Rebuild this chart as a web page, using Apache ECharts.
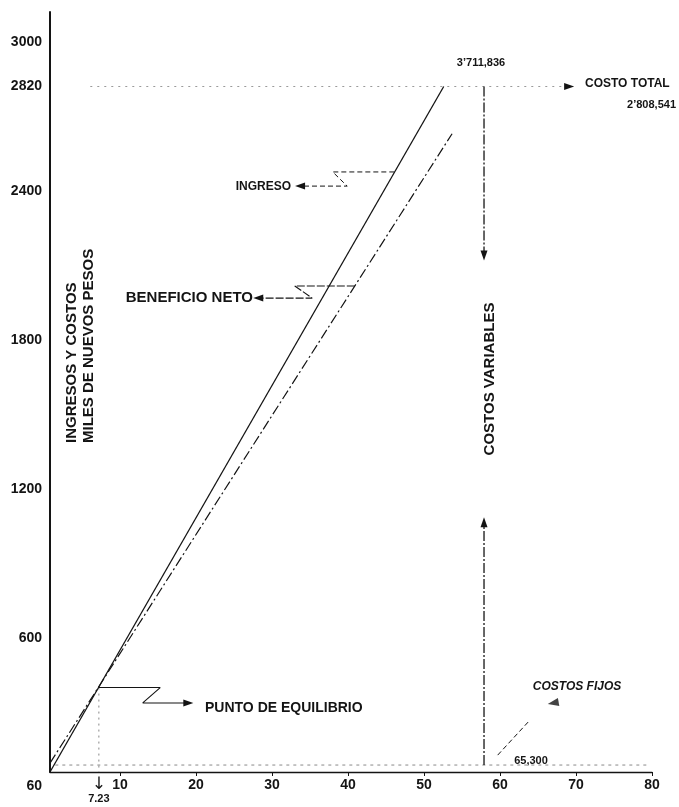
<!DOCTYPE html>
<html>
<head>
<meta charset="utf-8">
<script src="https://cdn.jsdelivr.net/npm/echarts@6/dist/echarts.min.js"></script>
<style>html,body{margin:0;padding:0;background:#fff}#c{width:679px;height:807px}</style>
</head>
<body>
<div id="c"></div>
<script>
// ---- data ----
const xTickValues = [10, 20, 30, 40, 50, 60, 70, 80];
const yTickValues = [60, 600, 1200, 1800, 2400, 2820, 3000];
const breakEvenUnits = 7.23;
const breakEvenLevel = 400;
const ingresoLine = [[0.8, 60], [52.6, 2820]];
const costoTotalLine = [[0.8, 96], [53.7, 2630]];
const costoTotalLevel = 2820;
const costosFijosLevel = 88;
const variablesX = 57.9;
const variablesDownTip = 2140;
const variablesUpTip = 1066;
const ingresoCallout = [[46.1, 2476], [38.0, 2476], [39.9, 2419], [33.7, 2419]];
const beneficioCallout = [[40.9, 2017], [33.0, 2017], [35.3, 1968], [28.2, 1968]];
const equilibrioCallout = [[7.23, 400], [15.3, 400], [13.0, 338], [19.0, 338]];
const fijosCallout = [[59.7, 128], [63.7, 261]];
const fijosArrow = [[67.0, 338]];
const ingresoTotalText = '3’711,836';
const costoTotalText = '2’808,541';
const costosFijosText = '65,300';

// ---- chart ----
const FF = '"Liberation Sans", Arial, Helvetica, sans-serif';
const INK = '#141414';

function path(name, pts, lineStyle, arrowRotate) {
  const last = pts.length - 1;
  return {
    type: 'line', name: name, silent: true, animation: false, z: 3,
    symbol: 'triangle', showSymbol: true,
    data: pts.map((p, i) => (i === last && arrowRotate !== undefined)
      ? { value: p, symbol: 'triangle', symbolSize: [7, 10], symbolRotate: arrowRotate, itemStyle: { color: INK } }
      : { value: p, symbol: 'none' }),
    lineStyle: Object.assign({ color: INK, width: 1 }, lineStyle)
  };
}

const chart = echarts.init(document.getElementById('c'), null, { renderer: 'canvas' });

function txt(text, x, y, size, align, opts) {
  return Object.assign({
    type: 'text', x: x, y: y, silent: true, z: 10,
    style: {
      text: text, fill: INK, fontSize: size, fontWeight: 'bold', fontFamily: FF,
      align: align, textAlign: align, verticalAlign: 'middle', textVerticalAlign: 'middle'
    }
  }, opts || {});
}

const option = {
  backgroundColor: '#fff',
  animation: false,
  grid: { left: 50, right: 27, top: 12, bottom: 35 },
  xAxis: {
    type: 'value', min: 0.8, max: 80,
    axisLine: { show: true, lineStyle: { color: INK, width: 1.4 } },
    axisTick: { show: true, customValues: xTickValues, length: 4, lineStyle: { color: INK } },
    splitLine: { show: false },
    axisLabel: {
      customValues: [breakEvenUnits].concat(xTickValues),
      margin: 4,
      formatter: v => v === breakEvenUnits ? '{arr|↓}\n{sm|' + breakEvenUnits + '}' : '{big|' + v + '}',
      rich: {
        big: { fontSize: 14, fontWeight: 'bold', fontFamily: FF, color: INK, lineHeight: 18 },
        arr: { fontSize: 17, fontFamily: '"DejaVu Sans", sans-serif', color: INK, lineHeight: 17 },
        sm: { fontSize: 11, fontWeight: 'bold', fontFamily: FF, color: INK, lineHeight: 12 }
      }
    }
  },
  yAxis: {
    type: 'value', min: 60, max: 3120,
    axisLine: { show: true, lineStyle: { color: INK, width: 2 } },
    axisTick: { show: false },
    splitLine: { show: false },
    axisLabel: {
      customValues: yTickValues,
      margin: 8,
      lineHeight: 28,
      formatter: v => v === yTickValues[0] ? '\n' + v : String(v),
      fontSize: 14, fontWeight: 'bold', fontFamily: FF, color: INK
    }
  },
  series: [
    { type: 'line', name: 'Ingreso', data: ingresoLine, symbol: 'none', z: 4,
      lineStyle: { color: INK, width: 1.3 } },
    { type: 'line', name: 'Costo total', data: costoTotalLine, symbol: 'none', z: 4,
      lineStyle: { color: INK, width: 1.2, type: [10, 3, 2, 3] } },
    path('nivel costo total', [[6.1, costoTotalLevel], [69.1, costoTotalLevel]], { color: '#9a9a9a', type: [2, 5] }, -90),
    path('nivel costos fijos', [[1.5, costosFijosLevel], [79.5, costosFijosLevel]], { color: '#8a8a8a', type: [3, 4] }),
    path('equilibrio vertical', [[breakEvenUnits, breakEvenLevel], [breakEvenUnits, 60]], { color: '#888', type: [2, 4] }),
    path('equilibrio', equilibrioCallout, { width: 1.1 }, -90),
    path('ingreso', ingresoCallout, { width: 1, type: [5, 3] }, 90),
    path('beneficio', beneficioCallout, { width: 1.1, type: [8, 2] }, 90),
    path('variables abajo', [[variablesX, costoTotalLevel], [variablesX, variablesDownTip]], { width: 1.3, type: [10, 2, 2, 2] }, 180),
    path('variables arriba', [[variablesX, costosFijosLevel], [variablesX, variablesUpTip]], { width: 1.3, type: [10, 2, 2, 2] }, 0),
    path('fijos', fijosCallout, { width: 1, type: [5, 3] }),
    { type: 'scatter', name: 'fijos flecha', data: fijosArrow, symbol: 'triangle', symbolSize: [8, 11],
      symbolRotate: 100, itemStyle: { color: INK }, silent: true }
  ],
  graphic: [
    txt(ingresoTotalText, 481, 63, 11, 'center'),
    txt('COSTO TOTAL', 585, 84, 12, 'left'),
    txt(costoTotalText, 676, 105, 11, 'right'),
    txt('INGRESO', 291, 187, 12, 'right'),
    txt('BENEFICIO NETO', 253, 298, 15, 'right'),
    txt('INGRESOS Y COSTOS', 72, 443, 15, 'left', { rotation: Math.PI / 2 }),
    txt('MILES DE NUEVOS PESOS', 89, 443, 15, 'left', { rotation: Math.PI / 2 }),
    txt('COSTOS VARIABLES', 490, 379, 15, 'center', { rotation: Math.PI / 2 }),
    txt('PUNTO DE EQUILIBRIO', 205, 708, 14, 'left'),
    txt('COSTOS FIJOS', 577, 687, 12, 'center', { style: { text: 'COSTOS FIJOS', fill: INK, fontSize: 12, fontWeight: 'bold', fontStyle: 'italic', fontFamily: FF, align: 'center', textAlign: 'center', verticalAlign: 'middle', textVerticalAlign: 'middle' } }),
    txt(costosFijosText, 531, 761, 11, 'center')
  ]
};
chart.setOption(option);
</script>
</body>
</html>
